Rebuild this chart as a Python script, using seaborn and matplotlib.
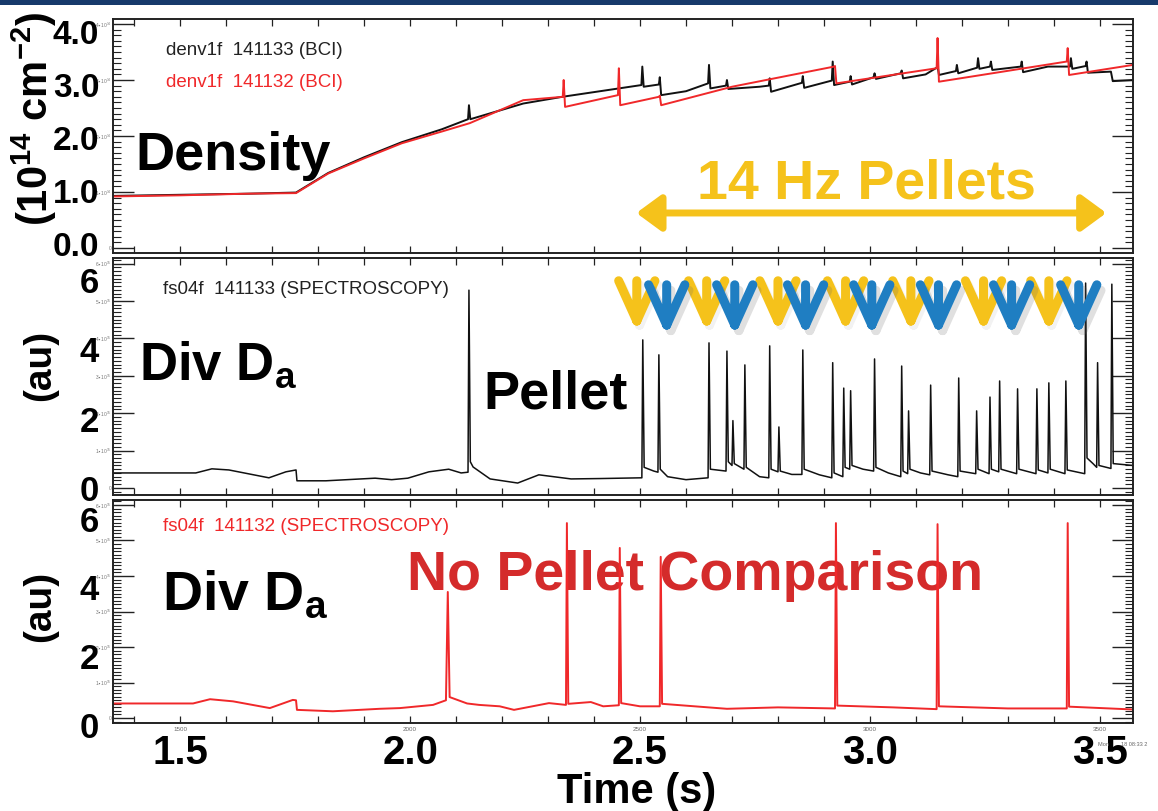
import numpy as np
import pandas as pd
import matplotlib
matplotlib.use("Agg")
import matplotlib.pyplot as plt
import seaborn as sns
from matplotlib.markers import MarkerStyle
from matplotlib.path import Path
from matplotlib.ticker import MultipleLocator, FuncFormatter
import matplotlib.transforms as mtransforms
import matplotlib.patheffects as pe
from matplotlib.patches import Rectangle

# ---------------- data (time in ms) ----------------
time_xlim = [1354, 3572]

dens_133_t = [1354, 1500, 1650, 1752, 1822, 1900, 1982, 2069, 2126, 2128, 2131, 2246, 2331, 2454,
              2503, 2505, 2508, 2541, 2543, 2546, 2600, 2648, 2650, 2653, 2687, 2689, 2692, 2760,
              2780, 2782, 2785, 2852, 2854, 2857, 2917, 2919, 2922, 2956, 2958, 2961, 3008, 3010,
              3013, 3067, 3069, 3072, 3121, 3145, 3147, 3150, 3187, 3189, 3192, 3233, 3235, 3238,
              3261, 3263, 3266, 3328, 3330, 3333, 3387, 3435, 3437, 3440, 3469, 3471, 3474, 3524,
              3528, 3572]
dens_133_v = [0.93, 0.95, 0.97, 0.99, 1.34, 1.62, 1.89, 2.12, 2.30, 2.55, 2.30, 2.58, 2.70, 2.85,
              2.91, 3.24, 2.88, 2.92, 3.05, 2.73, 2.80, 2.94, 3.27, 2.85, 2.90, 3.00, 2.84, 2.88,
              2.90, 3.03, 2.79, 2.95, 3.07, 2.86, 2.99, 3.33, 2.91, 2.97, 3.07, 2.92, 3.05, 3.12,
              3.02, 3.12, 3.17, 3.03, 3.10, 3.22, 3.26, 3.09, 3.16, 3.27, 3.12, 3.22, 3.39, 3.20,
              3.24, 3.33, 3.18, 3.24, 3.33, 3.14, 3.24, 3.24, 3.39, 3.20, 3.25, 3.33, 3.13, 3.15,
              2.98, 3.00]

dens_132_t = [1354, 1500, 1650, 1752, 1822, 1900, 1982, 2069, 2130, 2246, 2332, 2334, 2337, 2452,
              2454, 2457, 2541, 2543, 2546, 2700, 2922, 2924, 2927, 3145, 3147, 3150, 3428, 3430,
              3433, 3572]
dens_132_v = [0.92, 0.94, 0.97, 0.98, 1.33, 1.60, 1.87, 2.08, 2.23, 2.64, 2.70, 3.00, 2.52, 2.73,
              3.21, 2.55, 2.70, 2.72, 2.55, 2.88, 3.24, 3.25, 2.94, 3.21, 3.75, 2.97, 3.33, 3.57,
              3.09, 3.27]

da_133_t = [1354, 1534, 1569, 1606, 1693, 1730, 1752, 1754, 1817, 1924, 1960, 1995, 2041, 2084,
            2111, 2126, 2128, 2131, 2137, 2174, 2234, 2280, 2350, 2413, 2504, 2506, 2509, 2530,
            2539, 2541, 2544, 2560, 2600, 2648, 2650, 2653, 2687, 2689, 2692, 2700, 2702, 2705,
            2726, 2728, 2731, 2760, 2780, 2782, 2785, 2800, 2802, 2805, 2830, 2852, 2854, 2857,
            2890, 2917, 2919, 2922, 2941, 2943, 2946, 2956, 2958, 2961, 2985, 3008, 3010, 3013,
            3040, 3067, 3069, 3072, 3082, 3084, 3087, 3110, 3130, 3132, 3135, 3170, 3191, 3193,
            3196, 3230, 3232, 3235, 3259, 3261, 3264, 3280, 3282, 3285, 3319, 3321, 3324, 3361,
            3363, 3366, 3387, 3389, 3392, 3424, 3426, 3429, 3467, 3469, 3472, 3485, 3493, 3495,
            3498, 3524, 3526, 3529, 3572]
da_133_v = [0.40, 0.40, 0.51, 0.48, 0.27, 0.43, 0.48, 0.19, 0.19, 0.26, 0.22, 0.26, 0.43, 0.50,
            0.40, 0.42, 5.29, 0.70, 0.56, 0.24, 0.13, 0.35, 0.24, 0.25, 0.27, 3.96, 0.55, 0.45,
            0.42, 3.56, 0.50, 0.30, 0.22, 0.27, 3.88, 0.50, 0.45, 3.66, 0.70, 0.60, 1.80, 0.65,
            0.50, 3.29, 0.55, 0.30, 0.27, 3.80, 0.50, 0.43, 1.63, 0.45, 0.36, 0.36, 3.69, 0.50,
            0.35, 0.27, 3.35, 0.40, 0.30, 2.67, 0.55, 0.50, 2.60, 0.60, 0.50, 0.45, 3.45, 0.55,
            0.40, 0.30, 3.26, 0.45, 0.38, 2.06, 0.50, 0.40, 0.35, 2.75, 0.45, 0.35, 0.30, 2.94,
            0.45, 0.38, 2.06, 0.50, 0.38, 2.43, 0.50, 0.43, 2.86, 0.50, 0.38, 2.65, 0.50, 0.38,
            2.65, 0.48, 0.40, 2.81, 0.50, 0.38, 2.86, 0.48, 0.38, 5.48, 0.80, 0.65, 0.55, 3.35,
            0.60, 0.52, 5.45, 0.65, 0.60]

da_132_t = [1354, 1528, 1565, 1615, 1695, 1745, 1752, 1754, 1832, 1934, 1978, 2050, 2078, 2082,
            2086, 2124, 2150, 2195, 2226, 2302, 2339, 2341, 2344, 2393, 2420, 2454, 2456, 2459,
            2500, 2543, 2545, 2548, 2689, 2800, 2924, 2926, 2929, 3050, 3145, 3147, 3150, 3300,
            3428, 3430, 3433, 3573]
da_132_v = [0.41, 0.41, 0.53, 0.47, 0.28, 0.51, 0.50, 0.23, 0.19, 0.26, 0.28, 0.37, 0.50, 3.55,
            0.59, 0.41, 0.37, 0.33, 0.23, 0.42, 0.37, 5.49, 0.40, 0.45, 0.33, 0.36, 4.79, 0.42,
            0.33, 0.33, 4.54, 0.40, 0.26, 0.30, 0.27, 5.49, 0.35, 0.30, 0.25, 5.46, 0.33, 0.27,
            0.27, 5.49, 0.32, 0.24]

pellet_yellow_ms = [2493, 2645, 2800, 2947, 3089, 3247, 3389]
pellet_blue_ms = [2558, 2706, 2860, 3004, 3149, 3308, 3454]
pellet_window_ms = [2492, 3514]

x_tick_ms = [1500, 2000, 2500, 3000, 3500]
big_x_labels = ["1.5", "2.0", "2.5", "3.0", "3.5"]
big_y_dens = [0.0, 1.0, 2.0, 3.0, 4.0]
big_y_da = [0, 2, 4, 6]

# ---------------- style ----------------
sns.set_theme(style="white")
plt.rcParams["font.family"] = ["Liberation Sans", "DejaVu Sans"]
plt.rcParams["mathtext.default"] = "regular"
plt.rcParams["text.color"] = "black"
NARROW = ["Liberation Sans Narrow", "Liberation Sans", "DejaVu Sans"]
GOLD = "#F5C21B"
BLUE = "#1F7EC2"
RED_LINE = "#F0282A"
RED_TXT = "#D42B2B"

W, H = 1158, 811
fig = plt.figure(figsize=(W / 100, H / 100), dpi=100)
fig.patch.set_facecolor("white")
fig.patches.append(Rectangle((0, 1 - 5 / H), 1, 5 / H, transform=fig.transFigure,
                             facecolor="#173a6b", edgecolor="none"))


def make_ax(ytop, ybot):
    return fig.add_axes([113 / W, 1 - ybot / H, 1020 / W, (ybot - ytop) / H])


ax1 = make_ax(19, 253)
ax2 = make_ax(258, 495)
ax3 = make_ax(500, 723)

sns.lineplot(data=pd.DataFrame({"t": dens_133_t, "v": dens_133_v}), x="t", y="v", ax=ax1,
             color="#111111", lw=1.4, estimator=None, sort=False)
sns.lineplot(data=pd.DataFrame({"t": dens_132_t, "v": dens_132_v}), x="t", y="v", ax=ax1,
             color=RED_LINE, lw=1.4, estimator=None, sort=False)
sns.lineplot(data=pd.DataFrame({"t": da_133_t, "v": da_133_v}), x="t", y="v", ax=ax2,
             color="#111111", lw=1.1, estimator=None, sort=False)
sns.lineplot(data=pd.DataFrame({"t": da_132_t, "v": da_132_v}), x="t", y="v", ax=ax3,
             color=RED_LINE, lw=1.4, estimator=None, sort=False)

ax1.set_ylim(-0.09, 4.09)
ax2.set_ylim(-0.19, 6.15)
ax3.set_ylim(-0.14, 6.14)


def tiny_fmt(exp):
    return FuncFormatter(lambda v, p: "0" if abs(v) < 1e-9 else f"{int(round(v))}•10$^{{{exp}}}$")


for ax, exp in [(ax1, 14), (ax2, 15), (ax3, 15)]:
    ax.set_xlim(*time_xlim)
    ax.set_xlabel("")
    ax.set_ylabel("")
    ax.xaxis.set_major_locator(MultipleLocator(500))
    ax.xaxis.set_minor_locator(MultipleLocator(100))
    ax.yaxis.set_major_locator(MultipleLocator(1))
    ax.yaxis.set_minor_locator(MultipleLocator(0.1))
    ax.yaxis.set_major_formatter(tiny_fmt(exp))
    ax.tick_params(axis="x", which="both", direction="in", length=5, width=0.9, top=True,
                   bottom=True, color="#222222", labelsize=4.5, labelcolor="#666666", pad=3)
    ax.tick_params(axis="y", which="major", direction="in", length=15, width=1.0, left=True,
                   right=True, color="#222222", labelsize=3.5, labelcolor="#777777", pad=1)
    ax.tick_params(axis="y", which="minor", direction="in", length=6, width=0.8, left=True,
                   right=True, color="#222222")
    for s in ax.spines.values():
        s.set_color("#222222")
        s.set_linewidth(1.4)
    ax.set_facecolor("white")

ax1.tick_params(axis="x", labelbottom=False)
ax2.tick_params(axis="x", labelbottom=False)
ax3.set_xticks(x_tick_ms)

# big overlay tick labels
BIG_X = -0.0135
for lab in big_y_dens:
    ax1.text(BIG_X, 0.95 * lab, f"{lab:.1f}", transform=mtransforms.blended_transform_factory(
        ax1.transAxes, ax1.transData), ha="right", va="center", fontsize=24,
        fontweight="bold", family=NARROW, zorder=10, color="black")
for ax, sc, off in [(ax2, 0.93, -0.1), (ax3, 0.97, -0.3)]:
    tr = mtransforms.blended_transform_factory(ax.transAxes, ax.transData)
    for lab in big_y_da:
        ax.text(BIG_X, sc * lab + off, f"{lab}", transform=tr, ha="right", va="center",
                fontsize=25, fontweight="bold", family=NARROW, zorder=10, clip_on=False,
                color="black")

trx = mtransforms.blended_transform_factory(ax3.transData, ax3.transAxes)
for pos, lab in zip(x_tick_ms, big_x_labels):
    ax3.text(pos, -0.135, lab, transform=trx, ha="center", va="center", fontsize=29,
             fontweight="bold", clip_on=False, color="black")

fig.text(637 / W, 1 - 803 / H, "Time (s)", ha="center", va="baseline", fontsize=30,
         fontweight="bold", color="black")
fig.text(1098 / W, 1 - 744 / H, "Mon        18 08:33 2", fontsize=4, color="#666666",
         ha="left", va="center")

# y labels
fig.text(34 / W, 1 - 119 / H, "(10$^{14}$ cm$^{-2}$)", rotation=90, ha="center", va="center",
         fontsize=30, fontweight="bold", color="black")
fig.text(40 / W, 1 - 365 / H, "(au)", rotation=90, ha="center", va="center", fontsize=28,
         fontweight="bold", color="black")
fig.text(40 / W, 1 - 606 / H, "(au)", rotation=90, ha="center", va="center", fontsize=28,
         fontweight="bold", color="black")

# panel labels / annotations
ax1.text(0.052, 0.8675, "denv1f  141133 (BCI)", transform=ax1.transAxes, fontsize=13.5,
         color="#222222", va="center", ha="left")
ax1.text(0.052, 0.7265, "denv1f  141132 (BCI)", transform=ax1.transAxes, fontsize=13.5,
         color=RED_LINE, va="center", ha="left")
ax1.text(0.0216, 0.355, "Density", transform=ax1.transAxes, fontsize=39, fontweight="bold",
         va="baseline", ha="left", zorder=10, color="black")
ax1.text(0.5725, 0.235, "14 Hz Pellets", transform=ax1.transAxes, fontsize=40,
         fontweight="bold", color=GOLD, va="baseline", ha="left", zorder=10)
blend1 = mtransforms.blended_transform_factory(ax1.transData, ax1.transAxes)
ax1.annotate("", xy=(pellet_window_ms[1], 0.171), xytext=(pellet_window_ms[0], 0.171),
             xycoords=blend1, textcoords=blend1,
             arrowprops=dict(arrowstyle="<|-|>,head_length=0.75,head_width=0.55", color=GOLD,
                             lw=5, mutation_scale=20, shrinkA=0, shrinkB=0))

ax2.text(0.049, 0.869, "fs04f  141133 (SPECTROSCOPY)", transform=ax2.transAxes, fontsize=13.5,
         color="#222222", va="center", ha="left")
ax2.text(0.0255, 0.485, "Div D$_{a}$", transform=ax2.transAxes, fontsize=38, fontweight="bold",
         va="baseline", ha="left", zorder=10, color="black")
ax2.text(0.3627, 0.367, "Pellet", transform=ax2.transAxes, fontsize=39, fontweight="bold",
         va="baseline", ha="left", zorder=10, color="black")

ax3.text(0.049, 0.879, "fs04f  141132 (SPECTROSCOPY)", transform=ax3.transAxes, fontsize=13.5,
         color=RED_LINE, va="center", ha="left")
ax3.text(0.048, 0.507, "Div D$_{a}$", transform=ax3.transAxes, fontsize=40, fontweight="bold",
         va="baseline", ha="left", zorder=10, color="black")
ax3.text(0.288, 0.596, "No Pellet Comparison", transform=ax3.transAxes, fontsize=40,
         fontweight="bold", color=RED_TXT, va="baseline", ha="left", zorder=1)

# pellet chevrons
chev = Path([(-0.9, 1.0), (0.0, -1.0), (0.9, 1.0), (0.0, 1.0), (0.0, -1.0)],
            [Path.MOVETO, Path.LINETO, Path.LINETO, Path.MOVETO, Path.LINETO])
mk = MarkerStyle(chev, capstyle="round", joinstyle="miter")
blend2 = mtransforms.blended_transform_factory(ax2.transData, ax2.transAxes)
for ty, tb in zip(pellet_yellow_ms, pellet_blue_ms):
    ax2.plot([ty], [0.819], transform=blend2, marker=mk, markersize=29, markerfacecolor="none",
             markeredgecolor=GOLD, markeredgewidth=6.5, linestyle="none", zorder=12,
             clip_on=False,
             path_effects=[pe.SimpleLineShadow(offset=(2, -3), shadow_color="#999999", alpha=0.12),
                           pe.Normal()])
    ax2.plot([tb], [0.802], transform=blend2, marker=mk, markersize=29, markerfacecolor="none",
             markeredgecolor=BLUE, markeredgewidth=6.5, linestyle="none", zorder=13,
             clip_on=False,
             path_effects=[pe.SimpleLineShadow(offset=(3, -4), shadow_color="#666666", alpha=0.2),
                           pe.Normal()])

fig.savefig("out.png", dpi=100, facecolor="white")
